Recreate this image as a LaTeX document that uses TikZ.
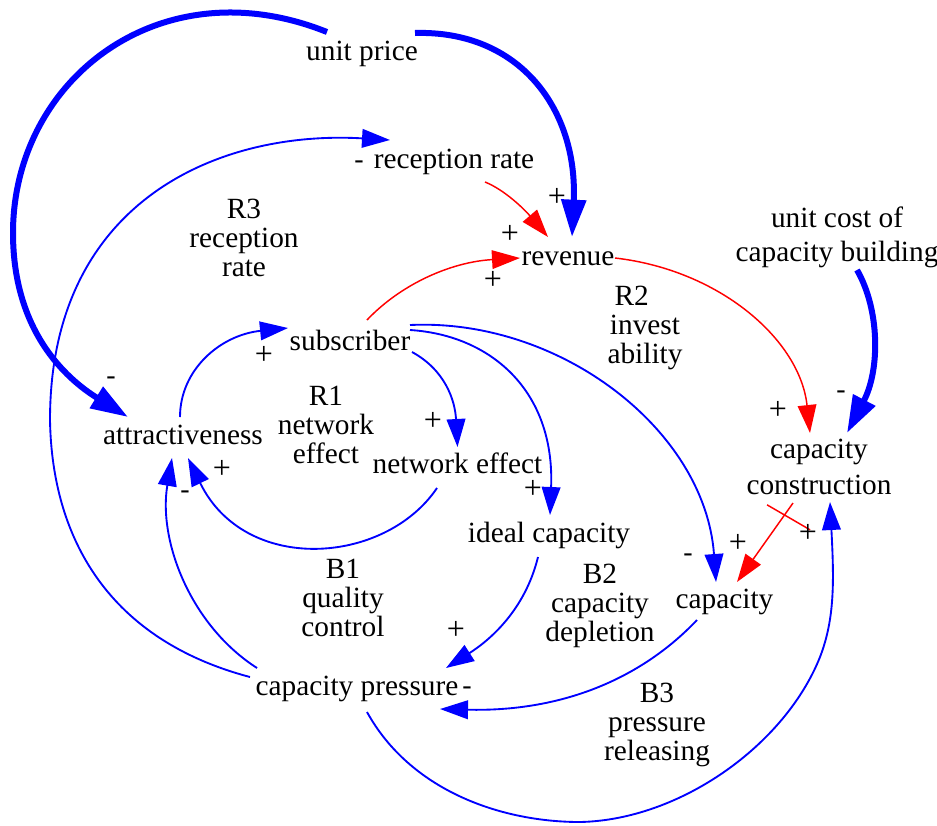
\documentclass[tikz,border=0pt]{standalone}
\usepackage{fontspec}
\setmainfont{Liberation Serif}
\usetikzlibrary{arrows.meta,calc}

\begin{document}
\begin{tikzpicture}[x=0.75pt,y=-0.75pt,
  var/.style={inner sep=0pt, anchor=base, font=\fontsize{22}{25.5}\selectfont},
  varbox/.style={inner sep=0pt, align=center, font=\fontsize{22}{25.5}\selectfont},
  looplabel/.style={inner sep=0pt, align=center, font=\fontsize{22}{21.5}\selectfont},
  sgn/.style={inner sep=0pt, anchor=base, font=\fontsize{24}{28}\selectfont},
  neg/.style={inner sep=0pt, anchor=base, font=\fontsize{21}{25}\selectfont},
  link/.style={blue, line width=1.4pt, -{Triangle[length=21pt,width=14pt]}},
  redlink/.style={red, line width=1.1pt, -{Triangle[length=21pt,width=14pt]}},
  thicklink/.style={blue, line width=4.5pt, -{Triangle[length=28pt,width=18pt]}},
]
\useasboundingbox (0,0) rectangle (937,825);

% variables
\node[var] (unitprice)  at (362,60)    {unit price};
\node[var] (recrate)    at (454,168)   {reception rate};
\node[var] (revenue)    at (568,265)   {revenue};
\node[varbox] (unitcost) at (837,237)  {unit cost of\\capacity building};
\node[var] (subscriber) at (350,350)   {subscriber};
\node[var] (attr)       at (183,444)   {attractiveness};
\node[var] (neteff)     at (457.5,473) {network effect};
\node[varbox, font=\fontsize{22}{27}\selectfont] (capcons) at (819,467) {capacity\\construction};
\node[var] (ideal)      at (549,542)   {ideal capacity};
\node[var] (capacity)   at (724.5,608) {capacity};
\node[var] (cappress)   at (357,695)   {capacity pressure};

% loop names
\node[looplabel] (r3) at (244,238) {R3\\reception\\rate};
\node[looplabel] (r2) at (645,328) {\kern-20pt R2\\invest\\ability};
\node[looplabel] (r1) at (326,425) {R1\\network\\effect};
\node[looplabel] (b1) at (343,598) {B1\\quality\\control};
\node[looplabel] (b2) at (600,606) {B2\\capacity\\depletion};
\node[looplabel] (b3) at (657,725) {B3\\pressure\\releasing};

% thick links
\draw[thicklink] ($(unitprice.base)+(-35,-28)$)
  .. controls (160,-35) and (13,80) .. (13,233)
  .. controls (13,330) and (65,378) .. ($(attr.base)+(-55,-27)$);
\draw[thicklink] ($(unitprice.base)+(53,-27)$)
  .. controls (520,30) and (578,110) .. ($(revenue.base)+(4,-28)$);
\draw[thicklink] ($(unitcost.center)+(20,33)$)
  .. controls (880,310) and (880,370) .. ($(capcons.center)+(28,-34)$);

% blue links
\draw[link] ($(cappress.base)+(-107,-18)$)
  .. controls (110,640) and (52,540) .. (50,420)
  .. controls (50,200) and (220,130) .. ($(recrate.base)+(-64,-28)$);
\draw[link] ($(cappress.base)+(-100,-27)$)
  .. controls (190,625) and (158,540) .. ($(attr.base)+(-11,14)$);
\draw[link] ($(neteff.base)+(-20.5,15)$)
  .. controls (385,565) and (245,575) .. ($(attr.base)+(5,14)$);
\draw[link] ($(attr.base)+(-3,-27)$)
  .. controls (180,370) and (220,335) .. ($(subscriber.base)+(-62,-22)$);
\draw[link] ($(subscriber.base)+(62,2)$)
  .. controls (445,370) and (455,400) .. ($(neteff.base)+(0,-26)$);
\draw[link] ($(subscriber.base)+(60,-20)$)
  .. controls (490,335) and (555,390) .. ($(ideal.base)+(1,-27)$);
\draw[link] ($(subscriber.base)+(60,-25)$)
  .. controls (560,318) and (705,430) .. ($(capacity.base)+(-8.5,-26)$);
\draw[link] ($(capacity.base)+(-27.5,12)$)
  .. controls (640,680) and (560,712) .. ($(cappress.base)+(83,14)$);
\draw[link] ($(ideal.base)+(-11,15)$)
  .. controls (525,610) and (490,640) .. ($(cappress.base)+(89,-27)$);
\draw[link] ($(cappress.base)+(10,17)$)
  .. controls (410,790) and (500,822) .. (580,822)
  .. controls (680,820) and (785,745) .. (820,657)
  .. controls (835,618) and (834,580) .. ($(capcons.center)+(11,35)$);

% red links
\draw[redlink] ($(subscriber.base)+(17,-30)$)
  .. controls (400,285) and (450,262) .. ($(revenue.base)+(-48,-7)$);
\draw[redlink] ($(recrate.base)+(31,14)$)
  .. controls (505,190) and (525,210) .. ($(revenue.base)+(-20,-28)$);
\draw[redlink] ($(revenue.base)+(47,-7)$)
  .. controls (720,270) and (800,340) .. ($(capcons.center)+(-9,-34)$);
\draw[redlink] ($(capcons.center)+(-26,36)$)
  -- coordinate[pos=0.15] (dly) ($(capacity.base)+(12.5,-26)$);
% delay mark
\draw[red, line width=1.1pt] ($(dly)+(-17.5,-10)$) -- ($(dly)+(25.5,15)$);

% polarities
\node[neg] (s1)  at (111,384) {-};
\node[sgn] (s2)  at (264,364.5) {+};
\node[neg] (s3)  at (359,168) {-};
\node[sgn] (s4)  at (557,206.5) {+};
\node[sgn] (s5)  at (510,243.5) {+};
\node[sgn] (s6)  at (493,289.5) {+};
\node[sgn] (s7)  at (778,419.5) {+};
\node[neg] (s8)  at (841,398) {-};
\node[sgn] (s9)  at (433,430.5) {+};
\node[sgn] (s10) at (533,498)   {+};
\node[sgn] (s11) at (222,478.5) {+};
\node[neg] (s12) at (185,498) {-};
\node[neg] (s13) at (688,561) {-};
\node[sgn] (s14) at (738,552.5) {+};
\node[sgn] (s15) at (808,542.5) {+};
\node[sgn] (s16) at (456,639.5) {+};
\node[neg] (s17) at (467,694) {-};
\end{tikzpicture}
\end{document}
